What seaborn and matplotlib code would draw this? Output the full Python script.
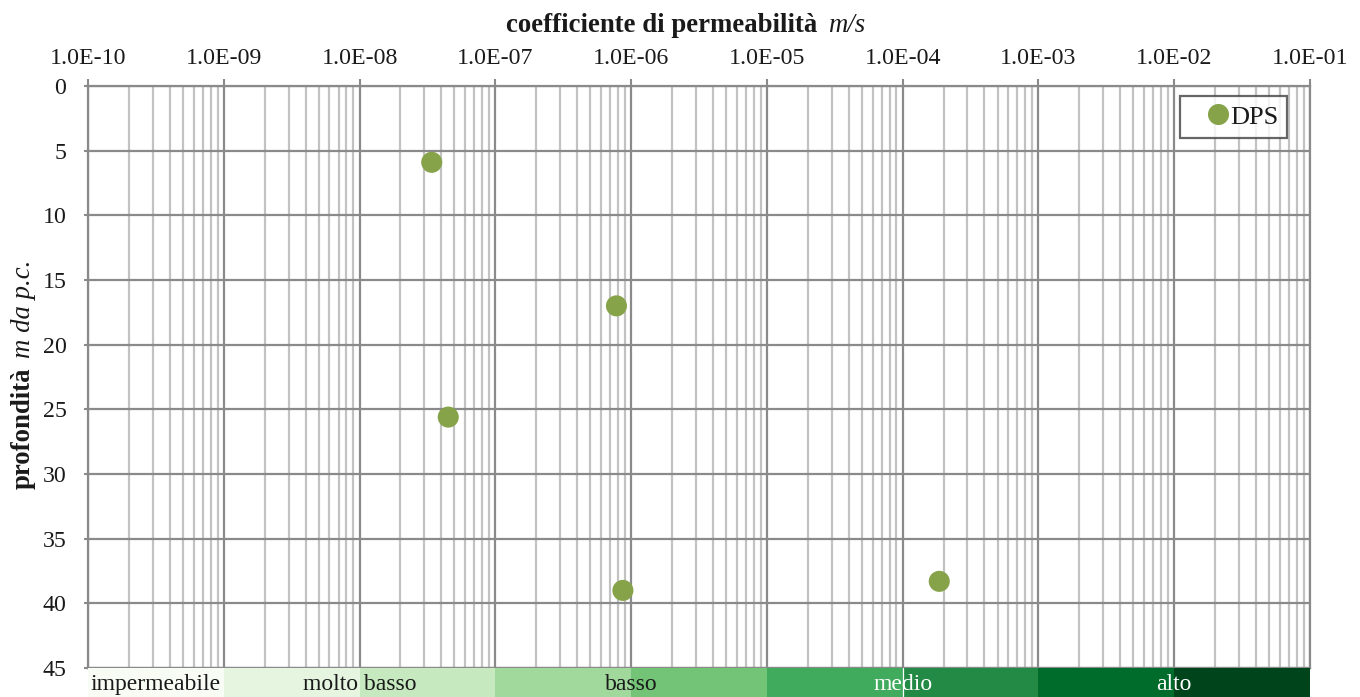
import numpy as np
import pandas as pd
import matplotlib
matplotlib.use("Agg")
import matplotlib.pyplot as plt
import matplotlib.ticker as mticker
import seaborn as sns

# ---- data ----
k_values = [3.4e-8, 7.8e-7, 4.5e-8, 8.7e-7, 1.86e-4]
depths = [5.9, 17.0, 25.6, 39.0, 38.3]
series = ["DPS"] * 5

band_labels = ["impermeabile", "molto basso", "basso", "medio", "alto"]
band_label_k = [1e-10, 1e-8, 1e-6, 1e-4, 1e-2]
band_text_colors = ["#1a1a1a", "#1a1a1a", "#1a1a1a", "white", "white"]

x_title = "coefficiente di permeabilità"
x_unit = "m/s"
y_title = "profondità"
y_unit = "m da p.c."

df = pd.DataFrame({"k": k_values, "depth": depths, "serie": series})

sns.set_theme(style="white")
plt.rcParams["font.family"] = ["Liberation Serif", "DejaVu Serif"]

W, H = 1360, 697
fig = plt.figure(figsize=(W / 100, H / 100), dpi=100)
L, R, T, B = 88 / W, 1310 / W, 86 / H, 668 / H
ax = fig.add_axes([L, 1 - B, R - L, B - T])

grid_major = "#8a8a8a"
grid_minor = "#c2c2c2"

sns.scatterplot(data=df, x="k", y="depth", hue="serie", palette=["#86A34A"],
                s=230, edgecolor="none", ax=ax, zorder=5, clip_on=False)

ax.set_xscale("log")
ax.set_xlim(1e-10, 1e-1)
ax.set_ylim(45, 0)
decades = np.logspace(-10, -1, 10)
ax.xaxis.set_major_locator(mticker.FixedLocator(decades))
minors = np.concatenate([d * np.arange(2, 10) for d in decades[:-1]])
ax.xaxis.set_minor_locator(mticker.FixedLocator(minors))
ax.xaxis.set_major_formatter(mticker.FuncFormatter(lambda v, p: f"{v:.1E}"))
ax.xaxis.set_minor_formatter(mticker.NullFormatter())
ax.yaxis.set_major_locator(mticker.MultipleLocator(5))
ax.xaxis.tick_top()
ax.tick_params(axis="x", which="major", top=True, bottom=False, length=5, width=1.5,
               color=grid_major, labelsize=17.2, pad=7, labelcolor="#1a1a1a")
ax.tick_params(axis="x", which="minor", top=False, bottom=False, length=0)
ax.tick_params(axis="y", which="major", left=True, length=3, width=1.5, color=grid_major,
               labelsize=17.2, pad=12.5, labelcolor="#1a1a1a")
ax.set_xlabel("")
ax.set_ylabel("")

ax.grid(which="major", axis="x", color=grid_major, lw=1.6)
ax.grid(which="minor", axis="x", color=grid_minor, lw=1.6)
ax.grid(which="major", axis="y", color=grid_major, lw=1.6)
ax.set_axisbelow(True)
for sp in ax.spines.values():
    sp.set_color(grid_major)
    sp.set_linewidth(1.6)

leg = ax.legend(loc="upper left", bbox_to_anchor=(0.8936, 0.9828), frameon=True,
                fancybox=False, edgecolor="#404040", fontsize=19, handletextpad=-0.64,
                borderpad=0.35, markerscale=1.0, borderaxespad=0, handlelength=2.18)
leg.get_frame().set_linewidth(1.6)
for t in leg.get_texts():
    t.set_color("#1a1a1a")

# ---- permeability class band ----
axb = fig.add_axes([L, 0, R - L, 1 - B])
axb.set_xscale("log")
axb.set_xlim(1e-10, 1e-1)
axb.set_ylim(0, 1)
axb.axis("off")
cols = plt.get_cmap("Greens")(np.linspace(0, 1, len(decades) - 1))
for i in range(len(decades) - 1):
    axb.axvspan(decades[i], decades[i + 1], color=cols[i], lw=0)
axb.axvline(1e-4, color="white", lw=0.9)
for lab, kx, c in zip(band_labels, band_label_k, band_text_colors):
    if lab == band_labels[0]:
        axb.text(kx * 1.05, 0.42, lab, ha="left", va="center", fontsize=17, color=c)
    else:
        axb.text(kx, 0.42, lab, ha="center", va="center", fontsize=17, color=c)

# ---- titles ----
fig.text(817 / W, 1 - 32 / H, x_title, ha="right", va="baseline", fontsize=19.3,
         fontweight="bold", color="#1a1a1a")
fig.text(828 / W, 1 - 32 / H, x_unit, ha="left", va="baseline", fontsize=19.3,
         fontstyle="italic", color="#1a1a1a")
fig.text(23 / W, 1 - 489 / H, y_title, ha="left", va="center", rotation=90,
         rotation_mode="anchor", fontsize=19.3, fontweight="bold", color="#1a1a1a")
fig.text(23 / W, 1 - 358 / H, y_unit, ha="left", va="center", rotation=90,
         rotation_mode="anchor", fontsize=19.3, fontstyle="italic", color="#1a1a1a")

fig.savefig("out.png", dpi=100)
